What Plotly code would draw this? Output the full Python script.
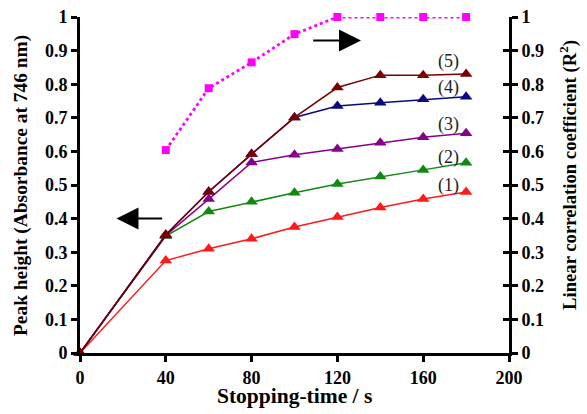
import plotly.graph_objects as go

time_s = [0, 40, 60, 80, 100, 120, 140, 160, 180]
series1 = [0, 0.275, 0.310, 0.340, 0.375, 0.405, 0.433, 0.458, 0.479]
series2 = [0, 0.348, 0.421, 0.450, 0.477, 0.503, 0.525, 0.545, 0.566]
series3 = [0, 0.350, 0.458, 0.567, 0.590, 0.607, 0.626, 0.642, 0.654]
series4 = [0, 0.352, 0.480, 0.592, 0.701, 0.735, 0.745, 0.755, 0.763]
series5 = [0, 0.352, 0.480, 0.592, 0.701, 0.790, 0.827, 0.827, 0.830]
r2_time = [40, 60, 80, 100, 120, 140, 160, 180]
r2_vals = [0.604, 0.788, 0.865, 0.949, 1.0, 1.0, 1.0, 1.0]
series_labels = ["(1)", "(2)", "(3)", "(4)", "(5)"]
label_y = [0.50, 0.581, 0.68, 0.79, 0.867]
x_ticks = [0, 40, 80, 120, 160, 200]
y_ticks = [0, 0.1, 0.2, 0.3, 0.4, 0.5, 0.6, 0.7, 0.8, 0.9, 1]
y_tick_text = ["0", "0.1", "0.2", "0.3", "0.4", "0.5", "0.6", "0.7", "0.8", "0.9", "1"]

colors = ["#ff1a1a", "#118811", "#880088", "#0a0a80", "#7a0000"]
FONT = "Liberation Serif"

fig = go.Figure()
for s, c in zip([series1, series2, series3, series4, series5], colors):
    fig.add_trace(go.Scatter(x=time_s, y=s, mode="lines+markers", cliponaxis=False,
                             line=dict(color=c, width=1.5),
                             marker=dict(symbol="triangle-up", size=11, color=c),
                             showlegend=False))

fig.add_trace(go.Scatter(x=r2_time, y=r2_vals, mode="lines+markers", yaxis="y2",
                         cliponaxis=False,
                         line=dict(color="#ff00ff", width=2.8, dash="dot"),
                         marker=dict(symbol="square", size=8, color="#ff00ff"),
                         showlegend=False))
fig.add_trace(go.Scatter(x=[None], y=[None], yaxis="y3", showlegend=False))

for lab, ly in zip(series_labels, label_y):
    fig.add_annotation(x=172, y=ly, text=lab, showarrow=False,
                       font=dict(family=FONT, size=18, color="#222"))

fig.add_annotation(x=17, y=0.40, ax=39, ay=0.40, xref="x", yref="y", axref="x", ayref="y",
                   text="", showarrow=True, arrowhead=2, arrowsize=2.2, arrowwidth=2, arrowcolor="black")
fig.add_annotation(x=131, y=0.93, ax=108, ay=0.93, xref="x", yref="y", axref="x", ayref="y",
                   text="", showarrow=True, arrowhead=2, arrowsize=2.2, arrowwidth=2, arrowcolor="black")

# axis titles
fig.add_annotation(xref="paper", yref="paper", x=0.5, y=0, yshift=-43, yanchor="middle",
                   text="<b>Stopping-time / s</b>", showarrow=False,
                   font=dict(family=FONT, size=21.5, color="black"))
fig.add_annotation(xref="paper", yref="paper", x=0, y=0.5, xshift=-59, xanchor="center",
                   yshift=-1,
                   textangle=-90, text="<b>Peak height (Absorbance at 746 nm)</b>", showarrow=False,
                   font=dict(family=FONT, size=19.4, color="black"))
fig.add_annotation(xref="paper", yref="paper", x=1, y=0.5, xshift=59, xanchor="center",
                   yshift=10,
                   textangle=-90, text="<b>Linear correlation coefficient (R<sup>2</sup>)</b>",
                   showarrow=False, font=dict(family=FONT, size=18.7, color="black"))

tickfont = dict(family=FONT, size=18, color="black")
bold = lambda arr: ["<b>%s</b>" % t for t in arr]

fig.update_layout(
    width=587, height=414,
    margin=dict(l=80, r=78, t=17, b=61),
    plot_bgcolor="white", paper_bgcolor="white",
    hovermode=False,
    xaxis=dict(range=[0, 200], tickvals=x_ticks, ticktext=bold([str(v) for v in x_ticks]),
               automargin=False, showgrid=False, zeroline=False, showline=True,
               linecolor="black", linewidth=3,
               ticks="outside", ticklen=6, tickwidth=2.5, tickcolor="black",
               tickfont=tickfont),
    yaxis=dict(range=[0, 1], tickvals=y_ticks, ticktext=bold(y_tick_text), automargin=False,
               showgrid=False, zeroline=False, showline=True,
               linecolor="black", linewidth=3, ticks="outside", ticklen=6, tickwidth=2.5,
               tickcolor="black", tickfont=tickfont),
    yaxis2=dict(range=[0, 1], tickvals=y_ticks, ticktext=bold(y_tick_text), overlaying="y",
                side="right", automargin=False, showgrid=False,
                zeroline=False, showline=True, linecolor="black", linewidth=3,
                ticks="outside", ticklen=6, tickwidth=2.5, tickcolor="black",
                tickfont=tickfont),
    yaxis3=dict(range=[0, 1], tickvals=y_ticks, overlaying="y", side="right", automargin=False,
                showgrid=False, zeroline=False, showline=False, ticks="inside", ticklen=6,
                tickwidth=2.5, tickcolor="black", showticklabels=False),
)

# remove the page body's default 8px margin so the figure fills the window
fig.write_html("out.html", config={"displayModeBar": False},
               post_script="document.body.style.margin='0';")
